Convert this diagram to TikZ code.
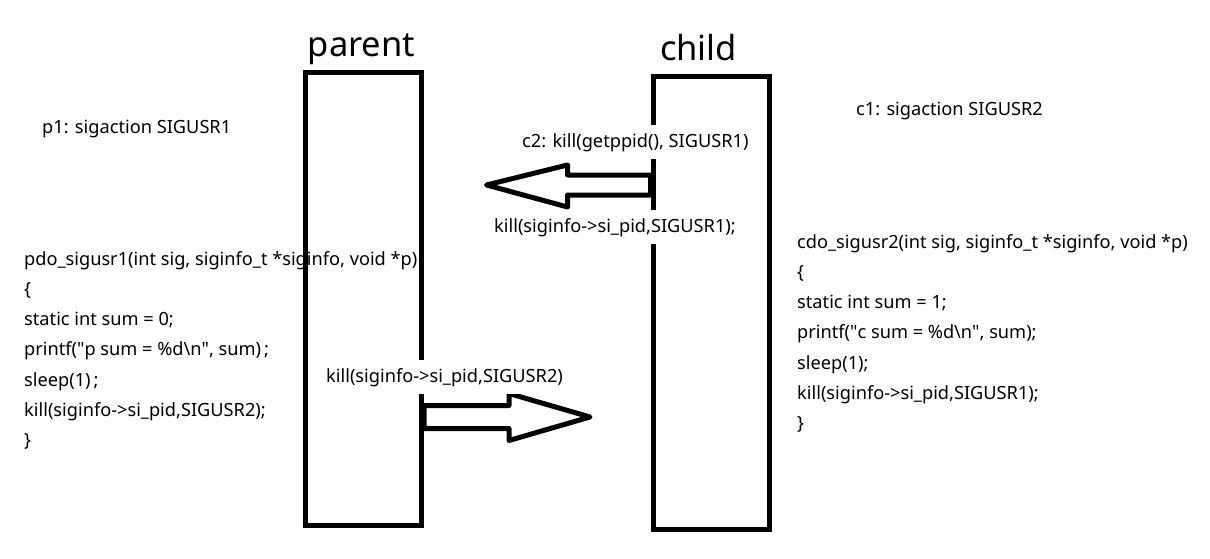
\documentclass[tikz,border=0pt]{standalone}
\usepackage{fontspec}
\setmainfont{Noto Sans}
\usetikzlibrary{positioning, calc}

\begin{document}
\begin{tikzpicture}[x=1pt, y=-1pt,
  procbox/.style={draw, line width=5pt, minimum width=116pt, minimum height=452pt, inner sep=0pt},
  title/.style={font=\fontsize{34.5}{40}\selectfont, inner sep=0pt, anchor=base},
  code/.style={font=\fontsize{18.2}{22}\selectfont, inner sep=0pt, anchor=base west},
  msg/.style={code, fill=white, inner xsep=2pt, inner ysep=8pt},
  blockarrow/.style={draw, line width=5pt, fill=white, line join=round}]
  \useasboundingbox (0,0) rectangle (1210,559);

  % handler of the parent
  \node[code] (p1) at (42,134) {p1: sigaction SIGUSR1};
  \foreach \i/\txt in {0/{pdo\_sigusr1(int sig, siginfo\_t *siginfo, void *p)}, 1/{\{},
    2/{static int sum = 0;}, 3/{printf(\textquotedbl p sum = \%d\textbackslash n\textquotedbl, sum)\,;},
    4/{sleep(1)\,;}, 5/{kill(siginfo->si\_pid,SIGUSR2);}, 6/{\}}} {
    \node[code] (pcode\i) at (24,265+30.3*\i) {\txt};
  }

  % handler of the child
  \node[code] (c1) at (856,116) {c1: sigaction SIGUSR2};
  \foreach \i/\txt in {0/{cdo\_sigusr2(int sig, siginfo\_t *siginfo, void *p)}, 1/{\{},
    2/{static int sum = 1;}, 3/{printf(\textquotedbl c sum = \%d\textbackslash n\textquotedbl, sum);},
    4/{sleep(1);}, 5/{kill(siginfo->si\_pid,SIGUSR1);}, 6/{\}}} {
    \node[code] (ccode\i) at (797,248+30.3*\i) {\txt};
  }

  % the two processes
  \node[procbox] (parent) at (363.5,299) {};
  \node[procbox] (child) at (711,303) {};
  \node[title] (ptitle) at (361.5,57) {parent};
  \node[title] (ctitle) at (698.5,61) {child};

  % signals
  \coordinate (c2p) at (child.west |- 0,185);
  \coordinate (p2c) at (parent.east |- 0,417);
  \draw[blockarrow] (c2p) ++(0,-10) -- ++(-83,0) -- ++(0,-10) -- ++(-81,20)
    -- ++(81,22) -- ++(0,-12) -- ++(83,0) -- cycle;
  \draw[blockarrow] (p2c) ++(0,-11.5) -- ++(85,0) -- ++(0,-12) -- ++(81,23.5)
    -- ++(-81,23.5) -- ++(0,-12) -- ++(-85,0) -- cycle;

  \node[msg] (c2) at (520,147) {c2: kill(getppid(), SIGUSR1)};
  \node[msg] (ckill) at (492,232) {kill(siginfo->si\_pid,SIGUSR1);};
  \node[msg] (pkill) at (324,382) {kill(siginfo->si\_pid,SIGUSR2)};
\end{tikzpicture}
\end{document}
